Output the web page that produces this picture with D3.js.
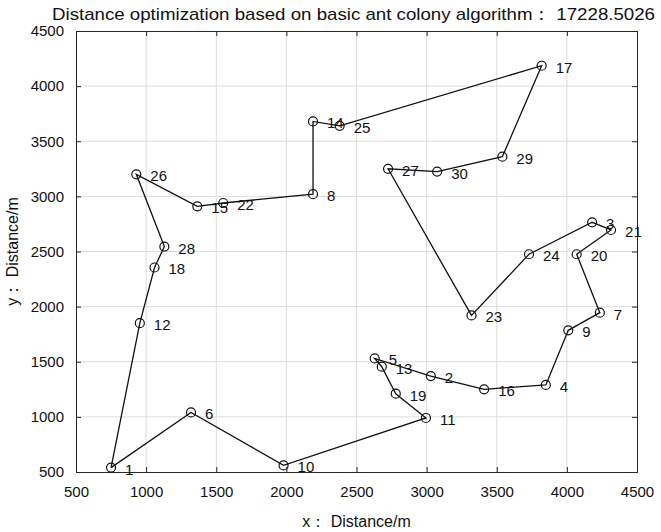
<!DOCTYPE html>
<html>
<head>
<meta charset="utf-8">
<script src="https://cdn.jsdelivr.net/npm/d3@7"></script>
<style>
  body { margin: 0; background: #fff; }
  svg text { font-family: 'Liberation Sans', Arial, sans-serif; fill: #111; }
</style>
</head>
<body>
<div id="chart"></div>
<script>
// route order of the best tour (closes back to city 1)
const cityIds = [1, 6, 10, 11, 19, 13, 5, 2, 16, 4, 9, 7, 20, 21, 3, 24, 23, 27, 30, 29, 17, 25, 14, 8, 22, 15, 26, 28, 18, 12];
const cityX = [750, 1320, 1980, 2995, 2780, 2680, 2630, 3030, 3410, 3850, 4010, 4235, 4070, 4315, 4180, 3730, 3320, 2725, 3075, 3540, 3820, 2380, 2190, 2190, 1550, 1365, 930, 1130, 1060, 955];
const cityY = [540, 1040, 560, 990, 1210, 1455, 1530, 1370, 1250, 1290, 1785, 1945, 2475, 2695, 2765, 2475, 1920, 3250, 3225, 3360, 4185, 3640, 3680, 3020, 2940, 2910, 3200, 2545, 2355, 1850];

const xTicks = [500, 1000, 1500, 2000, 2500, 3000, 3500, 4000, 4500];
const yTicks = [500, 1000, 1500, 2000, 2500, 3000, 3500, 4000, 4500];

const titleText = 'Distance optimization based on basic ant colony algorithm\uff1a 17228.5026';
const xLabel = 'x\uff1a Distance/m';
const yLabel = 'y\uff1a Distance/m';

const width = 661;
const height = 532;
const margin = {top: 31, right: 24, bottom: 60, left: 76};
const innerW = width - margin.left - margin.right;
const innerH = height - margin.top - margin.bottom;
const tickLen = 5;

const points = cityIds.map((id, i) => ({id: id, x: cityX[i], y: cityY[i]}));

const xScale = d3.scaleLinear().domain([500, 4500]).range([0, innerW]);
const yScale = d3.scaleLinear().domain([500, 4500]).range([innerH, 0]);

const svg = d3.select('#chart').append('svg')
  .attr('width', width)
  .attr('height', height);

const g = svg.append('g')
  .attr('transform', `translate(${margin.left}, ${margin.top})`);

/* grid */
g.append('g').selectAll('line')
  .data(xTicks.slice(1, -1)).enter()
  .append('line')
  .attr('x1', d => xScale(d)).attr('x2', d => xScale(d))
  .attr('y1', 0).attr('y2', innerH)
  .attr('stroke', '#dcdcdc').attr('stroke-width', 1);

g.append('g').selectAll('line')
  .data(yTicks.slice(1, -1)).enter()
  .append('line')
  .attr('y1', d => yScale(d)).attr('y2', d => yScale(d))
  .attr('x1', 0).attr('x2', innerW)
  .attr('stroke', '#dcdcdc').attr('stroke-width', 1);

/* axes (ticks inward, box style) */
const fmt = d3.format('d');
const xAxis = d3.axisBottom(xScale).tickValues(xTicks).tickFormat(fmt).tickSize(-tickLen).tickPadding(tickLen + 9);
const yAxis = d3.axisLeft(yScale).tickValues(yTicks).tickFormat(fmt).tickSize(-tickLen).tickPadding(tickLen + 7);

g.append('g')
  .attr('class', 'x axis')
  .attr('transform', `translate(0, ${innerH})`)
  .call(xAxis);

g.append('g')
  .attr('class', 'y axis')
  .call(yAxis);

g.append('g')
  .call(d3.axisTop(xScale).tickValues(xTicks).tickSize(-tickLen).tickFormat(''));
g.append('g')
  .attr('transform', `translate(${innerW}, 0)`)
  .call(d3.axisRight(yScale).tickValues(yTicks).tickSize(-tickLen).tickFormat(''));

g.selectAll('.domain').attr('stroke', '#262626');
g.selectAll('.tick line').attr('stroke', '#262626');
g.selectAll('.tick text')
  .style('font-size', '15px')
  .style('font-family', "'Liberation Sans', Arial, sans-serif")
  .attr('fill', '#111');

/* route */
const line = d3.line()
  .x(d => xScale(d.x))
  .y(d => yScale(d.y));

g.append('path')
  .datum(points.concat([points[0]]))
  .attr('d', line)
  .attr('fill', 'none')
  .attr('stroke', '#111')
  .attr('stroke-width', 1.3);

g.append('g').selectAll('circle')
  .data(points).enter()
  .append('circle')
  .attr('cx', d => xScale(d.x))
  .attr('cy', d => yScale(d.y))
  .attr('r', 4.5)
  .attr('fill', 'none')
  .attr('stroke', '#111')
  .attr('stroke-width', 1.2);

g.append('g').selectAll('text')
  .data(points).enter()
  .append('text')
  .attr('x', d => xScale(d.x) + 14)
  .attr('y', d => yScale(d.y) + 7)
  .style('font-size', '15px')
  .text(d => d.id);

/* titles */
svg.append('text')
  .attr('x', margin.left + innerW / 2 - 3)
  .attr('y', 20)
  .attr('text-anchor', 'middle')
  .attr('textLength', 603)
  .attr('lengthAdjust', 'spacingAndGlyphs')
  .style('font-size', '17px')
  .text(titleText);

svg.append('text')
  .attr('x', margin.left + innerW / 2)
  .attr('y', 527)
  .attr('text-anchor', 'middle')
  .style('font-size', '16px')
  .text(xLabel);

svg.append('text')
  .attr('transform', `translate(18, ${margin.top + innerH / 2}) rotate(-90)`)
  .attr('text-anchor', 'middle')
  .style('font-size', '16px')
  .text(yLabel);
</script>
</body>
</html>
